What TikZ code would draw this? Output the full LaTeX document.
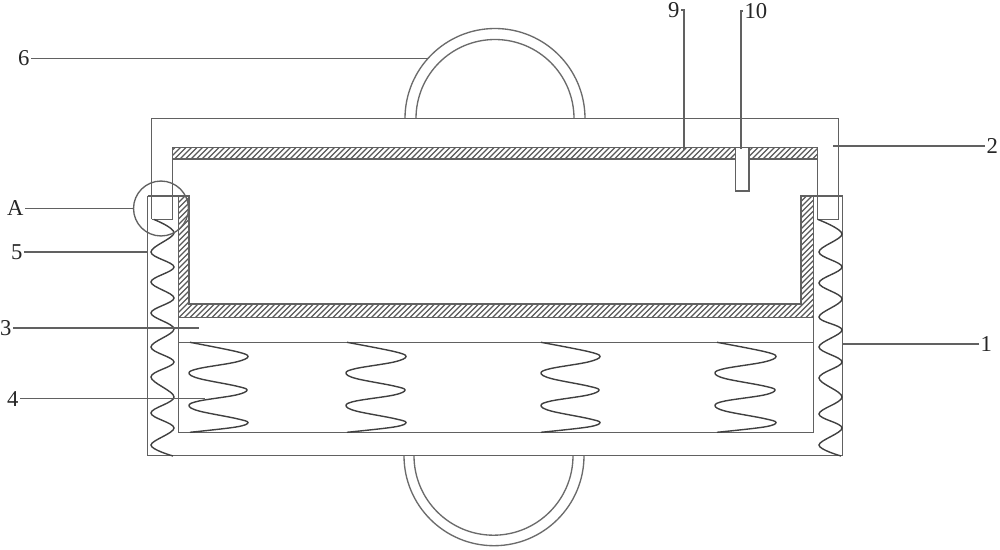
\documentclass[tikz,border=0pt]{standalone}
\usepackage{fontspec}
\setmainfont{Liberation Serif}
\tikzset{
  x=0.75pt,y=-0.75pt,
  wall/.style={draw=black!62,line width=1.05pt,line join=miter},
  thin wall/.style={draw=black!58,line width=1pt},
  coil/.style={draw=black!75,line width=1.05pt,smooth,tension=0.6},
  leader/.style={draw=black!62,line width=1pt},
  hatchline/.style={draw=black!65,line width=0.85pt},
  lab/.style={inner sep=1pt,font=\fontsize{17}{18}\selectfont,text=black!85}
}
\newcommand{\innercoil}[3]{% start x, right x, left x
  \draw[coil] plot coordinates {(#1,342.3) (#2-12,351.5) (#2,356.5) (#2-12,362) (#3+10,368.5) (#3,373) (#3+10,378.5) (#2-12,386) (#2-1,390) (#2-12,395) (#3+10,401) (#3,405.5) (#3+10,411) (#2-12,418.5) (#2,422.5) (#2-12,427) (#1,432.3)};
}
\begin{document}
\begin{tikzpicture}
\useasboundingbox[fill=white] (0,0) rectangle (1000,550);

% handles
\draw[thin wall] (405,118.5) arc[start angle=180,end angle=360,radius=90];
\draw[thin wall] (416,118.5) arc[start angle=180,end angle=360,radius=79];
\draw[thin wall] (404,455.7) arc[start angle=180,end angle=0,radius=90];
\draw[thin wall] (414,455.7) arc[start angle=180,end angle=0,radius=79.5];

% hatching: plate and U-shaped tray
\begin{scope}
  \clip (172.3,147.3) rectangle (817.3,159);
  \foreach \h in {155,160.5,...,825}{\draw[hatchline] (\h,162) -- (\h+18,144);}
\end{scope}
\begin{scope}
  \clip (178.3,196) -- (189,196) -- (189,304) -- (801,304) -- (801,196) -- (813.3,196) -- (813.3,317.3) -- (178.3,317.3) -- cycle;
  \foreach \h in {50,55.5,...,815}{\draw[hatchline] (\h,320) -- (\h+130,190);}
\end{scope}
\draw[wall] (172.3,147.3) rectangle (817.3,159);
\draw[wall] (178.3,196) -- (189,196) -- (189,304) -- (801,304) -- (801,196) -- (813.3,196) -- (813.3,317.3) -- (178.3,317.3) -- cycle;

% lower box
\draw[wall] (147.7,196) -- (178.3,196);
\draw[wall] (813.3,196) -- (842.7,196);
\draw[wall] (147.7,196) -- (147.7,455.7) -- (842.7,455.7) -- (842.7,196);
\draw[wall] (178.3,196) -- (178.3,432.3) -- (813.3,432.3) -- (813.3,196);
\draw[wall] (178.3,342.3) -- (813.3,342.3);

% upper frame
\draw[wall] (151.5,219.3) -- (151.5,118.5) -- (838.3,118.5) -- (838.3,219.3) -- (817.3,219.3) -- (817.3,147.3);
\draw[wall] (172.3,147.3) -- (172.3,219.3) -- (151.5,219.3);

% sensor
\draw[wall,fill=white] (735.7,147.3) rectangle (749,191);

% springs
\draw[coil] plot coordinates {(154,219.5) (174,233) (151,252) (174,267) (151,282) (174,298) (151,313) (174,329) (151,347) (174,362) (151,377) (174,397) (151,413) (174,428) (151,445) (173,456)};
\draw[coil] plot coordinates {(818,219.5) (842,234) (819,252) (842,267) (819,283) (842,299) (819,317) (842,330) (819,347) (842,362) (819,378) (842,397) (819,414) (842,428) (819,445) (841,456)};
\innercoil{190}{248}{189}
\innercoil{347}{406}{346}
\innercoil{541}{600}{541}
\innercoil{717}{776}{715}

% detail circle
\node[draw=black!62,line width=1pt,circle,minimum size=41.2pt,inner sep=0pt] (ringA) at (161,208.5) {};

% labels and leaders
\node[lab,anchor=east] (l6) at (31,58.5) {6};
\coordinate (e6) at (428,58.5);
\draw[leader] (l6.east) -- (e6);
\node[lab,anchor=east] (lA) at (25,208.5) {A};
\draw[leader] (lA.east) -- (ringA.west);
\node[lab,anchor=east] (l5) at (24,252) {5};
\coordinate (e5) at (148,252);
\draw[leader] (l5.east) -- (e5);
\node[lab,anchor=east] (l3) at (13,328) {3};
\coordinate (e3) at (199,328);
\draw[leader] (l3.east) -- (e3);
\node[lab,anchor=east] (l4) at (20,398.7) {4};
\coordinate (e4) at (205,398.7);
\draw[leader] (l4.east) -- (e4);
\node[lab,anchor=west] (l2) at (985,146) {2};
\coordinate (e2) at (833,146);
\draw[leader] (l2.west) -- (e2);
\node[lab,anchor=west] (l1) at (979,344) {1};
\coordinate (e1) at (843,344);
\draw[leader] (l1.west) -- (e1);
\node[lab,anchor=east] (l9) at (681,10) {9};
\coordinate (e9) at (684,150);
\draw[leader] (l9.east) -- (684,10) -- (e9);
\node[lab,anchor=west] (l10) at (743,11) {10};
\coordinate (e10) at (741,149);
\draw[leader] (l10.west) -- (741,11) -- (e10);
\end{tikzpicture}
\end{document}
